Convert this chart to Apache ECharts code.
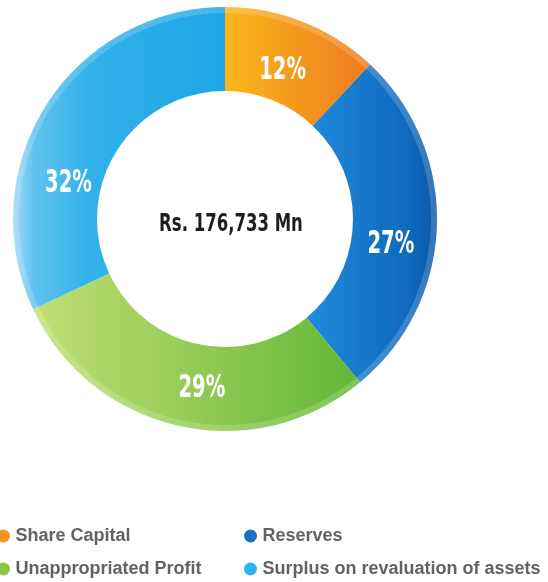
<!DOCTYPE html>
<html>
<head>
<meta charset="utf-8">
<script src="https://cdn.jsdelivr.net/npm/echarts@6/dist/echarts.min.js"></script>
<style>
  html, body { margin: 0; padding: 0; background: #fff; }
  #chart { width: 548px; height: 582px; }
</style>
</head>
<body>
<div id="chart"></div>
<script>
// Equity composition (share of total, %)
const categories = ['Share Capital', 'Reserves', 'Unappropriated Profit', 'Surplus on revaluation of assets'];
const shares = [12, 27, 29, 32];
const totalLabel = 'Rs. 176,733 Mn';

// Segment fills (horizontal gradient stops) and legend dot colours
const fillStops = [
  [[0, '#f9b71b'], [1, '#ee7a1f']],
  [[0, '#208bda'], [0.8, '#0f68bb'], [1, '#0a58a8']],
  [[0, '#c2de74'], [1, '#62b737']],
  [[0, '#a0d9f6'], [0.1, '#60c2f0'], [0.35, '#33b1ea'], [1, '#1ea6e5']]
];
const dotColors = ['#f29322', '#1b70c1', '#8cc640', '#2ab5ee'];

// Nudges for the percentage labels away from the sector mid-point
const labelNudge = [[-5, 10], [-4, 20], [14, 4], [-13, 56]];

const condensed = "'DejaVu Sans Condensed', 'DejaVu Sans', sans-serif";

const chart = echarts.init(document.getElementById('chart'));

const ringData = categories.map((name, i) => ({
  name: name,
  value: shares[i],
  itemStyle: {
    color: new echarts.graphic.LinearGradient(0, 0, 1, 0,
      fillStops[i].map(s => ({ offset: s[0], color: s[1] })))
  }
}));

const legendText = { fontFamily: 'Liberation Sans, Arial, sans-serif', fontWeight: 'bold', fontSize: 18, color: '#626262' };
const legendBase = {
  orient: 'vertical', top: 527, padding: 0,
  icon: 'circle', itemWidth: 14, itemHeight: 13, itemGap: 15,
  textStyle: legendText, selectedMode: false
};
const legendItems = idx => idx.map(k => ({ name: categories[k], itemStyle: { color: dotColors[k] } }));

chart.setOption({
  animation: false,
  legend: [
    Object.assign({ data: legendItems([0, 2]), left: -3 }, legendBase),
    Object.assign({ data: legendItems([1, 3]), left: 244 }, legendBase)
  ],
  series: [
    {
      type: 'pie',
      center: [225, 219],
      radius: [128, 212],
      startAngle: 90,
      clockwise: true,
      silent: true,
      label: { show: false },
      labelLine: { show: false },
      data: ringData
    },
    {
      // thin lighter rim along the outer edge
      type: 'pie',
      center: [225, 219],
      radius: [206, 212],
      startAngle: 90,
      clockwise: true,
      silent: true,
      label: { show: false },
      labelLine: { show: false },
      itemStyle: { color: 'rgba(255,255,255,0.18)' },
      data: categories.map((name, i) => ({ name: name + ' ', value: shares[i] }))
    }
  ]
});

// Percentage labels: placed from each sector as laid out by the pie series,
// drawn in a narrowed bold face above the ring.
const ringLayout = chart.getModel().getSeriesByIndex(0).getData();
const graphics = [{
  type: 'text',
  z: 100,
  x: 231, y: 225,
  scaleX: 0.765,
  style: {
    text: totalLabel,
    fill: '#1e1e1e',
    font: 'bold 24px ' + condensed,
    align: 'center',
    verticalAlign: 'middle'
  }
}];
shares.forEach((v, i) => {
  const L = ringLayout.getItemLayout(i);
  const mid = (L.startAngle + L.endAngle) / 2;
  const rm = (L.r + L.r0) / 2;
  graphics.push({
    type: 'text',
    z: 100,
    x: L.cx + rm * Math.cos(mid) + labelNudge[i][0],
    y: L.cy + rm * Math.sin(mid) + labelNudge[i][1],
    scaleX: 0.68,
    style: {
      text: v + '%',
      fill: '#ffffff',
      font: 'bold 32px ' + condensed,
      align: 'center',
      verticalAlign: 'middle'
    }
  });
});
chart.setOption({ graphic: graphics });
</script>
</body>
</html>
